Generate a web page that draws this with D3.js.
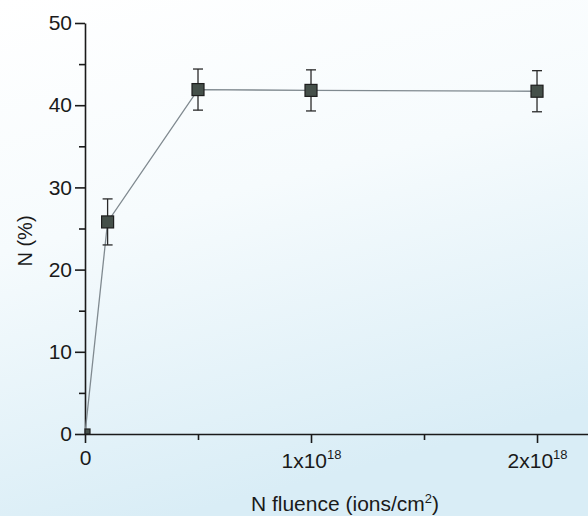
<!DOCTYPE html>
<html>
<head>
<meta charset="utf-8">
<script src="https://cdn.jsdelivr.net/npm/d3@7"></script>
<style>
  html, body { margin: 0; padding: 0; }
  svg { display: block; font-family: "Liberation Sans", Arial, sans-serif; }
  .axis path, .axis line { stroke: #1a1a1a; stroke-width: 1.6; }
</style>
</head>
<body>
<svg id="chart" width="588" height="516"></svg>
<script>
// data
var fluence = [0, 0.1e18, 0.5e18, 1e18, 2e18];
var nitrogen = [0, 25.8, 41.9, 41.8, 41.7];
var errors = [0, 2.8, 2.5, 2.5, 2.5];
var yTicks = [0, 10, 20, 30, 40, 50];
var xTicks = [0, 1e18, 2e18];

var svg = d3.select('#chart');
var width = 588, height = 516;

// faint blue scan background
var defs = svg.append('defs');
var grad = defs.append('linearGradient')
  .attr('id', 'bg').attr('x1', '0').attr('y1', '0').attr('x2', '0.3').attr('y2', '1');
grad.append('stop').attr('offset', '0').attr('stop-color', '#ffffff');
grad.append('stop').attr('offset', '0.45').attr('stop-color', '#f6fbfd');
grad.append('stop').attr('offset', '1').attr('stop-color', '#d9edf6');
svg.append('rect').attr('width', width).attr('height', height).attr('fill', 'url(#bg)');

var x = d3.scaleLinear().domain([0, 2.23e18]).range([85, 589]);
var y = d3.scaleLinear().domain([0, 50]).range([434, 23]);

// y axis: minor + major ticks
svg.append('g').attr('class', 'axis')
  .attr('transform', 'translate(' + x(0) + ',0)')
  .call(d3.axisLeft(y).tickValues([5, 15, 25, 35, 45]).tickSize(6).tickFormat(''))
  .select('.domain').remove();
svg.append('g').attr('class', 'axis')
  .attr('transform', 'translate(' + x(0) + ',0)')
  .call(d3.axisLeft(y).tickValues(yTicks).tickSize(10).tickSizeOuter(0).tickPadding(3).tickFormat(d3.format('d')))
  .selectAll('text').attr('fill', '#1a1a1a').attr('font-size', 21);

// x axis
svg.append('g').attr('class', 'axis')
  .attr('transform', 'translate(0,' + y(0) + ')')
  .call(d3.axisBottom(x).tickValues([0.5e18, 1.5e18]).tickSize(6).tickFormat(''))
  .select('.domain').remove();
var xAxis = svg.append('g').attr('class', 'axis')
  .attr('transform', 'translate(0,' + y(0) + ')')
  .call(d3.axisBottom(x).tickValues(xTicks).tickSize(9).tickSizeOuter(0).tickFormat(''));

xAxis.selectAll('.tick').append('text')
  .attr('y', 34).attr('text-anchor', 'middle')
  .attr('font-size', 21).attr('fill', '#1a1a1a')
  .each(function(d) {
    var t = d3.select(this);
    if (d === 0) { t.attr('y', 31).text('0'); return; }
    t.append('tspan').text(Math.round(d / 1e18) + 'x10');
    t.append('tspan').attr('dy', '-9').attr('font-size', '13px').text('18');
  });

// connecting line
var line = d3.line()
  .x(function(d, i) { return x(fluence[i]); })
  .y(function(d) { return y(d); });
svg.append('path')
  .datum(nitrogen)
  .attr('d', line)
  .attr('fill', 'none')
  .attr('stroke', '#808a90')
  .attr('stroke-width', 1.3);

// error bars
var pts = nitrogen.map(function(v, i) { return { x: fluence[i], y: v, e: errors[i] }; })
  .filter(function(d) { return d.e > 0; });
var eb = svg.append('g').attr('stroke', '#2a2a2a').attr('stroke-width', 1.3);
eb.selectAll('line.v').data(pts).enter().append('line').attr('class', 'v')
  .attr('x1', function(d) { return x(d.x); }).attr('x2', function(d) { return x(d.x); })
  .attr('y1', function(d) { return y(d.y + d.e); }).attr('y2', function(d) { return y(d.y - d.e); });
eb.selectAll('line.t').data(pts).enter().append('line').attr('class', 't')
  .attr('x1', function(d) { return x(d.x) - 5; }).attr('x2', function(d) { return x(d.x) + 5; })
  .attr('y1', function(d) { return y(d.y + d.e); }).attr('y2', function(d) { return y(d.y + d.e); });
eb.selectAll('line.b').data(pts).enter().append('line').attr('class', 'b')
  .attr('x1', function(d) { return x(d.x) - 5; }).attr('x2', function(d) { return x(d.x) + 5; })
  .attr('y1', function(d) { return y(d.y - d.e); }).attr('y2', function(d) { return y(d.y - d.e); });

// markers (the one at the origin is mostly hidden by the axes)
svg.selectAll('rect.marker')
  .data(nitrogen)
  .enter().append('rect')
  .attr('class', 'marker')
  .attr('x', function(d, i) { return x(fluence[i]) - (i === 0 ? 0 : 6); })
  .attr('y', function(d, i) { return y(d) - (i === 0 ? 5 : 6); })
  .attr('width', function(d, i) { return i === 0 ? 5 : 12; })
  .attr('height', function(d, i) { return i === 0 ? 5 : 12; })
  .attr('fill', '#45504a')
  .attr('stroke', '#1e1e1e')
  .attr('stroke-width', 1.2);

// axis titles
svg.append('text')
  .attr('transform', 'translate(32,241) rotate(-90)')
  .attr('text-anchor', 'middle')
  .attr('font-size', '20px').attr('fill', '#1a1a1a')
  .text('N (%)');

var xt = svg.append('text')
  .attr('x', 345).attr('y', 511)
  .attr('text-anchor', 'middle')
  .attr('font-size', '21px').attr('fill', '#1a1a1a');
xt.append('tspan').text('N fluence (ions/cm');
xt.append('tspan').attr('dy', '-8').attr('font-size', '13px').text('2');
xt.append('tspan').attr('dy', '8').text(')');
</script>
</body>
</html>
